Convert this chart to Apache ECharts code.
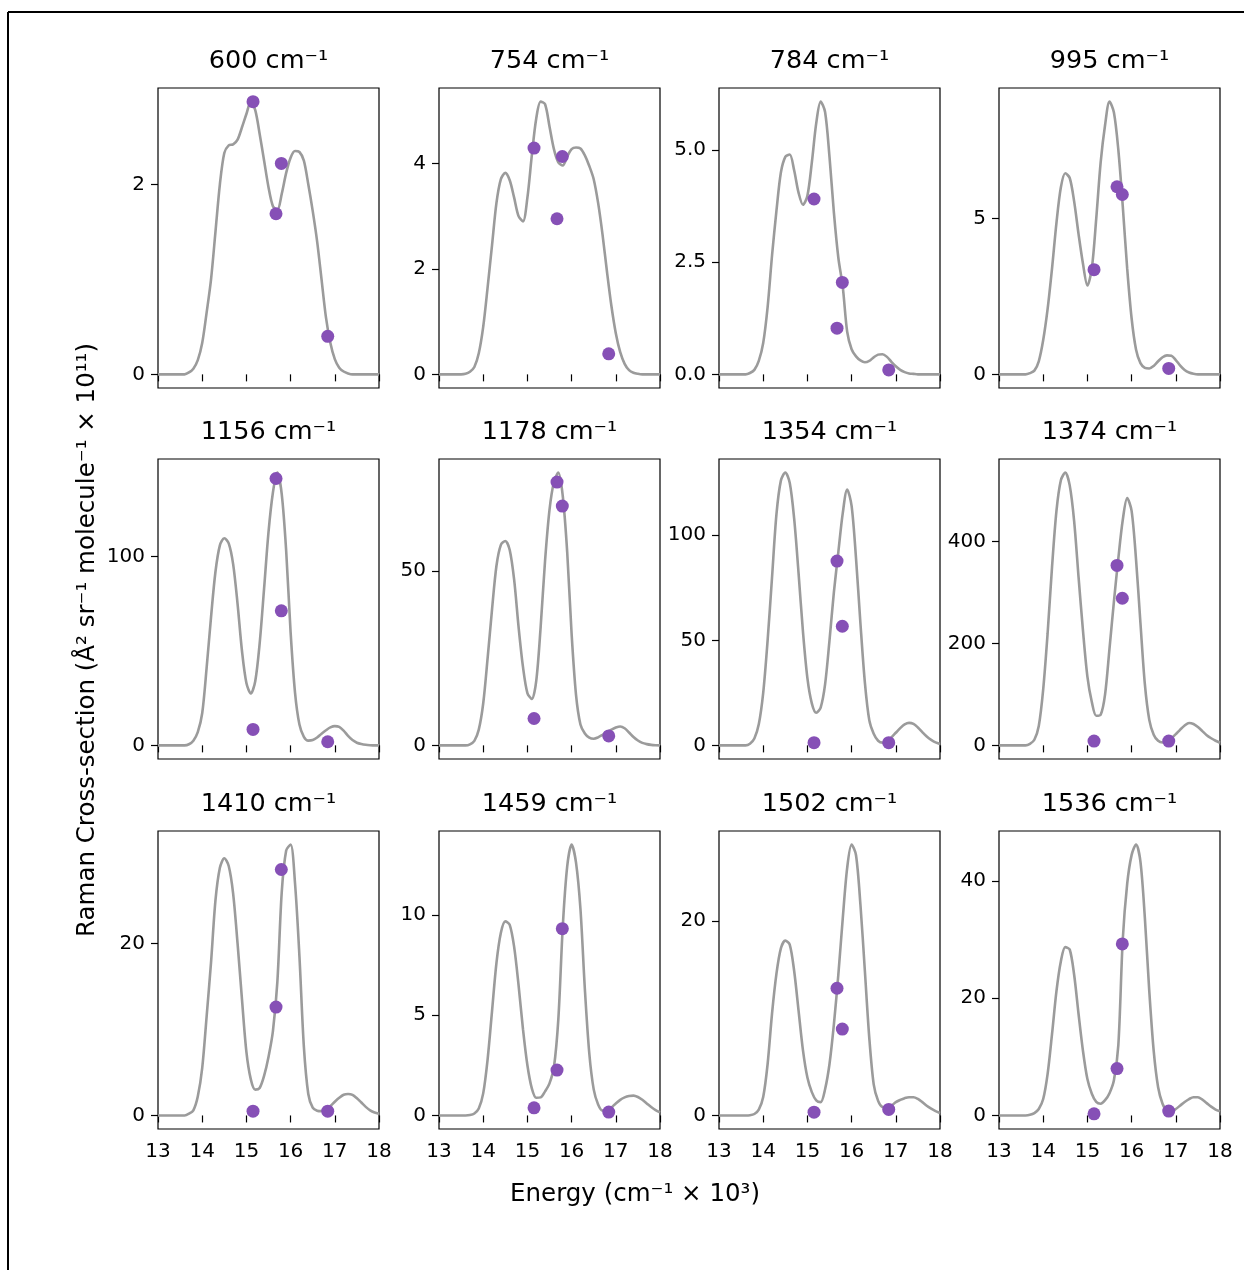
<!DOCTYPE html>
<html>
<head>
<meta charset="utf-8">
<script src="https://cdn.jsdelivr.net/npm/echarts@6/dist/echarts.min.js"></script>
<style>
  html, body { margin: 0; padding: 0; background: #fff; }
  #chart { width: 1244px; height: 1270px; }
</style>
</head>
<body>
<div id="chart"></div>
<script>
// Excitation energy grid (cm^-1 x 10^3) for the calculated profiles
const energy = [13.0, 13.1, 13.2, 13.3, 13.4, 13.5, 13.6, 13.7, 13.8, 13.9,
  14.0, 14.1, 14.2, 14.3, 14.4, 14.5, 14.6, 14.7, 14.8, 14.9,
  15.0, 15.1, 15.2, 15.3, 15.4, 15.5, 15.6, 15.7, 15.8, 15.9,
  16.0, 16.1, 16.2, 16.3, 16.4, 16.5, 16.6, 16.7, 16.8, 16.9,
  17.0, 17.1, 17.2, 17.3, 17.4, 17.5, 17.6, 17.7, 17.8, 17.9, 18.0];

// Laser excitation energies of the measured cross-sections
const laserEnergy = [15.15, 15.67, 15.79, 16.84];

const modes = ['600', '754', '784', '995', '1156', '1178', '1354', '1374', '1410', '1459', '1502', '1536'];

// Calculated excitation profiles
const p600 = [0, 0, 0, 0, 0, 0, 0, 0.02, 0.06, 0.15, 0.33, 0.65, 1.0, 1.5, 2.0, 2.33, 2.41, 2.42, 2.47, 2.6, 2.74, 2.87, 2.78, 2.53, 2.25, 1.97, 1.77, 1.73, 1.9, 2.12, 2.28, 2.35, 2.34, 2.25, 2.0, 1.72, 1.4, 1.0, 0.6, 0.33, 0.16, 0.07, 0.03, 0.01, 0, 0, 0, 0, 0, 0, 0];
const p754 = [0, 0, 0, 0, 0, 0, 0.01, 0.05, 0.14, 0.4, 0.9, 1.65, 2.45, 3.25, 3.7, 3.82, 3.68, 3.35, 3.0, 2.9, 3.35, 4.15, 4.85, 5.17, 5.12, 4.7, 4.27, 4.02, 3.96, 4.13, 4.27, 4.3, 4.28, 4.15, 3.95, 3.7, 3.25, 2.65, 1.95, 1.3, 0.78, 0.42, 0.2, 0.08, 0.03, 0.01, 0, 0, 0, 0, 0];
const p784 = [0, 0, 0, 0, 0, 0, 0, 0.03, 0.1, 0.3, 0.7, 1.5, 2.65, 3.65, 4.5, 4.85, 4.9, 4.55, 4.05, 3.78, 3.98, 4.72, 5.6, 6.08, 5.85, 4.85, 3.6, 2.6, 1.95, 0.95, 0.56, 0.4, 0.31, 0.27, 0.3, 0.38, 0.44, 0.45, 0.39, 0.28, 0.18, 0.1, 0.05, 0.02, 0.01, 0, 0, 0, 0, 0, 0];
const p995 = [0, 0, 0, 0, 0, 0, 0, 0.04, 0.12, 0.42, 1.1, 2.1, 3.4, 4.86, 6.0, 6.45, 6.3, 5.55, 4.5, 3.55, 2.85, 3.4, 5.0, 6.8, 8.0, 8.75, 8.4, 7.2, 5.4, 3.4, 1.8, 0.8, 0.36, 0.21, 0.19, 0.27, 0.42, 0.55, 0.61, 0.6, 0.46, 0.28, 0.14, 0.06, 0.02, 0, 0, 0, 0, 0, 0];
const p1156 = [0, 0, 0, 0, 0, 0, 0, 0.6, 2.5, 7, 17, 41, 68, 92, 106, 109.7, 107, 96, 75, 50, 33, 27.5, 34, 54, 83, 113, 134, 144.5, 133, 103, 60, 28, 11, 4.5, 2.5, 2.8, 4.2, 6.2, 8, 9.5, 10.2, 9.8, 7.8, 5, 2.8, 1.4, 0.7, 0.3, 0.1, 0, 0];
const p1178 = [0, 0, 0, 0, 0, 0, 0, 0.3, 1.3, 4.5, 12, 25, 39, 51.5, 57.5, 58.6, 56, 47.5, 34, 22.5, 15, 13.3, 18.5, 34, 53, 67.5, 75.5, 78.2, 71.5, 55.5, 32, 14.5, 6, 3.4, 2.2, 1.9, 2.3, 3, 3.8, 4.5, 5.1, 5.4, 4.9, 3.7, 2.4, 1.4, 0.7, 0.35, 0.15, 0.05, 0];
const p1354 = [0, 0, 0, 0, 0, 0, 0, 0.8, 3.3, 10, 25, 50, 80, 110, 126, 129.8, 125, 108, 82, 54, 32, 20, 15.5, 18, 29, 50, 73, 92, 110.5, 121.8, 114, 89, 58, 30, 12, 5.5, 2.2, 1.3, 2, 3.8, 6, 8.2, 10, 10.7, 10.2, 8.5, 6.3, 4.2, 2.6, 1.4, 0.7];
const p1374 = [0, 0, 0, 0, 0, 0, 0, 3, 11, 38, 110, 220, 350, 460, 520, 535, 510, 440, 330, 225, 135, 85, 58, 60, 100, 190, 282, 367, 442, 485, 460, 365, 240, 120, 50, 21, 9, 5.5, 8, 14, 22, 31, 39, 44, 42, 36, 28, 20, 14, 9, 5];
const p1410 = [0, 0, 0, 0, 0, 0, 0, 0.2, 0.6, 2.2, 5.5, 11.5, 17.8, 25, 28.8, 29.9, 29, 25.8, 20, 13.5, 7.4, 4.2, 3.0, 3.2, 4.6, 6.8, 9.8, 15.5, 26, 30.8, 31.5, 27, 18.5, 8, 2.5, 0.9, 0.55, 0.5, 0.7, 1.1, 1.6, 2.05, 2.4, 2.5, 2.4, 2.0, 1.5, 1.0, 0.6, 0.35, 0.2];
const p1459 = [0, 0, 0, 0, 0, 0, 0, 0.02, 0.1, 0.35, 1.1, 2.8, 5.2, 7.6, 9.1, 9.67, 9.5, 8.4, 6.5, 4.3, 2.5, 1.35, 0.88, 0.9, 1.2, 1.6, 2.4, 4.8, 9.4, 12.4, 13.5, 12.6, 10.3, 6.3, 3.1, 1.3, 0.55, 0.25, 0.25, 0.4, 0.6, 0.78, 0.9, 0.97, 0.99, 0.92, 0.78, 0.6, 0.42, 0.27, 0.16];
const p1502 = [0, 0, 0, 0, 0, 0, 0, 0.02, 0.15, 0.6, 1.9, 5.3, 10.5, 14.6, 17.2, 18.0, 17.6, 14.9, 10.8, 6.7, 3.9, 2.4, 1.55, 1.37, 2.7, 5.3, 9.4, 14.5, 20.3, 25.5, 27.9, 26.8, 21.7, 14.9, 8.0, 3.2, 1.5, 0.85, 0.8, 1.0, 1.37, 1.6, 1.78, 1.88, 1.88, 1.7, 1.37, 1.0, 0.7, 0.45, 0.25];
const p1536 = [0, 0, 0, 0, 0, 0, 0, 0.1, 0.4, 1.1, 2.8, 7.1, 13.9, 21.2, 26.3, 28.7, 28.3, 24, 17.3, 11, 6.2, 3.7, 2.3, 2.0, 2.6, 3.8, 6.0, 12.0, 30.0, 39.5, 44.4, 46.2, 43.3, 33.7, 21.2, 11, 4.8, 2.0, 0.85, 0.74, 1.1, 1.7, 2.3, 2.8, 3.1, 3.1, 2.7, 2.1, 1.5, 1.0, 0.7];

// Measured cross-sections at the four laser energies
const d600 = [2.87, 1.69, 2.22, 0.40];
const d754 = [4.29, 2.95, 4.13, 0.39];
const d784 = [3.91, 1.03, 2.05, 0.10];
const d995 = [3.36, 6.02, 5.77, 0.19];
const d1156 = [8.45, 141.4, 71.3, 1.9];
const d1178 = [7.7, 75.5, 68.6, 2.7];
const d1354 = [1.3, 87.7, 56.7, 1.3];
const d1374 = [8.5, 353, 288.6, 8.5];
const d1410 = [0.5, 12.6, 28.6, 0.5];
const d1459 = [0.38, 2.26, 9.31, 0.17];
const d1502 = [0.34, 13.1, 8.9, 0.62];
const d1536 = [0.28, 8.0, 29.25, 0.74];

// y tick values and their labels
const t600 = [0, 2], l600 = ['0', '2'];
const t754 = [0, 2, 4], l754 = ['0', '2', '4'];
const t784 = [0, 2.5, 5], l784 = ['0.0', '2.5', '5.0'];
const t995 = [0, 5], l995 = ['0', '5'];
const t1156 = [0, 100], l1156 = ['0', '100'];
const t1178 = [0, 50], l1178 = ['0', '50'];
const t1354 = [0, 50, 100], l1354 = ['0', '50', '100'];
const t1374 = [0, 200, 400], l1374 = ['0', '200', '400'];
const t1410 = [0, 20], l1410 = ['0', '20'];
const t1459 = [0, 5, 10], l1459 = ['0', '5', '10'];
const t1502 = [0, 20], l1502 = ['0', '20'];
const t1536 = [0, 20, 40], l1536 = ['0', '20', '40'];

const panels = [
  { curve: p600, dots: d600, ticks: t600, labels: l600 },
  { curve: p754, dots: d754, ticks: t754, labels: l754 },
  { curve: p784, dots: d784, ticks: t784, labels: l784 },
  { curve: p995, dots: d995, ticks: t995, labels: l995 },
  { curve: p1156, dots: d1156, ticks: t1156, labels: l1156 },
  { curve: p1178, dots: d1178, ticks: t1178, labels: l1178 },
  { curve: p1354, dots: d1354, ticks: t1354, labels: l1354 },
  { curve: p1374, dots: d1374, ticks: t1374, labels: l1374 },
  { curve: p1410, dots: d1410, ticks: t1410, labels: l1410 },
  { curve: p1459, dots: d1459, ticks: t1459, labels: l1459 },
  { curve: p1502, dots: d1502, ticks: t1502, labels: l1502 },
  { curve: p1536, dots: d1536, ticks: t1536, labels: l1536 }
];

// Layout of the 3 x 4 panel grid (pixels)
const colLeft = [158, 439, 719, 999];
const rowTop = [88, 459, 831];
const rowHeight = [300, 300, 298];
const panelWidth = 221;

const FONT = 'DejaVu Sans';
const LINE_GREY = '#9b9b9b';
const DOT_PURPLE = '#8650b6';

const grids = [], xAxes = [], yAxes = [], series = [], graphics = [];

panels.forEach((p, i) => {
  const r = Math.floor(i / 4), c = i % 4;
  const left = colLeft[c], top = rowTop[r], h = rowHeight[r];
  const peak = Math.max(...p.curve, ...p.dots);

  grids.push({
    left: left, top: top, width: panelWidth, height: h,
    show: true, borderColor: '#000', borderWidth: 1.2, backgroundColor: 'transparent',
    containLabel: false
  });

  xAxes.push({
    type: 'value', gridIndex: i, min: 13, max: 18, interval: 1,
    axisLine: { show: false },
    axisTick: { show: true, inside: false, length: 7, lineStyle: { color: '#000', width: 1.2 } },
    axisLabel: {
      show: r === 2, margin: 13, fontFamily: FONT, fontSize: 20, color: '#000',
      formatter: v => String(v)
    },
    splitLine: { show: false }
  });

  yAxes.push({
    type: 'value', gridIndex: i,
    min: -0.05 * peak, max: 1.05 * peak,
    axisLine: { show: false },
    axisTick: { show: true, inside: false, length: 7, customValues: p.ticks, lineStyle: { color: '#000', width: 1.2 } },
    axisLabel: {
      show: true, margin: 13, fontFamily: FONT, fontSize: 20, color: '#000',
      customValues: p.ticks,
      formatter: v => {
        const k = p.ticks.findIndex(t => Math.abs(t - v) < 1e-9);
        return k >= 0 ? p.labels[k] : String(v);
      }
    },
    splitLine: { show: false }
  });

  series.push({
    type: 'line', xAxisIndex: i, yAxisIndex: i,
    data: energy.map((x, k) => [x, p.curve[k]]),
    showSymbol: false, smooth: 0.3,
    lineStyle: { color: LINE_GREY, width: 2.6 },
    z: 2, silent: true
  });
  series.push({
    type: 'scatter', xAxisIndex: i, yAxisIndex: i,
    data: laserEnergy.map((x, k) => [x, p.dots[k]]),
    symbolSize: 13,
    itemStyle: { color: DOT_PURPLE, opacity: 1 },
    z: 3, silent: true
  });

  graphics.push({
    type: 'text', x: left + panelWidth / 2, y: top - 27,
    style: {
      text: modes[i] + ' cm\u207B\u00B9', fontFamily: FONT, fontSize: 25.5,
      fill: '#000', align: 'center', verticalAlign: 'middle'
    }
  });
});

// Shared axis titles
graphics.push({
  type: 'text', x: 635, y: 1195,
  style: {
    text: 'Energy (cm\u207B\u00B9 \u00D7 10\u00B3)', fontFamily: FONT, fontSize: 24.5,
    fill: '#000', align: 'center', verticalAlign: 'middle'
  }
});
graphics.push({
  type: 'text', x: 88, y: 640, rotation: Math.PI / 2,
  style: {
    text: 'Raman Cross-section (\u00C5\u00B2 sr\u207B\u00B9 molecule\u207B\u00B9 \u00D7 10\u00B9\u00B9)',
    fontFamily: FONT, fontSize: 24.5, fill: '#000', align: 'center', verticalAlign: 'middle'
  }
});

// Figure frame lines along the top and left edges
graphics.push({ type: 'line', shape: { x1: 8, y1: 12, x2: 1244, y2: 12 }, style: { stroke: '#000', lineWidth: 2 } });
graphics.push({ type: 'line', shape: { x1: 8, y1: 12, x2: 8, y2: 1270 }, style: { stroke: '#000', lineWidth: 2 } });

const chart = echarts.init(document.getElementById('chart'), null, { renderer: 'canvas' });
chart.setOption({
  backgroundColor: '#fff',
  animation: false,
  grid: grids,
  xAxis: xAxes,
  yAxis: yAxes,
  series: series,
  graphic: graphics
});
</script>
</body>
</html>
